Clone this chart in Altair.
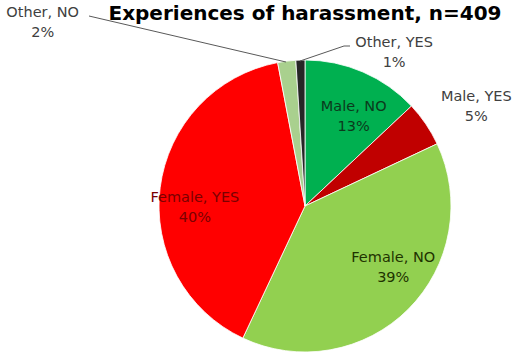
import math
import altair as alt
import pandas as pd

categories = ["Male, NO", "Male, YES", "Female, NO", "Female, YES", "Other, NO", "Other, YES"]
shares = [13, 5, 39, 40, 2, 1]
colors = ["#00B050", "#C00000", "#92D050", "#FF0000", "#A9D08E", "#262626"]
title_text = "Experiences of harassment, n=409"

# label layout (style): radius along slice mid-angle, dx, dy, text colour
label_r = [100, 195, 105, 110, 170, 155]
label_dx = [9, 10, 14, -1, -241, 94]
label_dy = [-7, 1, -22, 6, -24, -8]
label_col = ["#0B3A1C", "#404040", "#1F3300", "#7A0000", "#404040", "#404040"]

CX, CY, R = 305, 206, 146

df = pd.DataFrame({
    "category": categories,
    "share": shares,
    "idx": list(range(len(categories))),
})
df["label"] = [f"{c}\n{s}%" for c, s in zip(categories, shares)]

arc = alt.Chart(df).mark_arc(radius=R, stroke="white", strokeWidth=0.8).encode(
    theta=alt.Theta("share:Q", stack=True, scale=alt.Scale(domain=[0, 100])),
    color=alt.Color("category:N", scale=alt.Scale(domain=categories, range=colors), legend=None),
    order=alt.Order("idx:Q"),
    x=alt.value(CX),
    y=alt.value(CY),
)

base_txt = alt.Chart(df).transform_window(
    cum="sum(share)", sort=[alt.SortField("idx")], frame=[None, 0]
).transform_calculate(mid="datum.cum - datum.share / 2")

layers = [arc]
for i, c in enumerate(categories):
    t = base_txt.transform_filter(alt.datum.category == c).mark_text(
        radius=label_r[i], dx=label_dx[i], dy=label_dy[i],
        font="DejaVu Sans", fontSize=14.5, lineBreak="\n", lineHeight=20,
        align="center", baseline="middle", color=label_col[i],
    ).encode(
        theta=alt.Theta("mid:Q", scale=alt.Scale(domain=[0, 100]), stack=None),
        text="label:N",
        x=alt.value(CX),
        y=alt.value(CY),
    )
    layers.append(t)

one = pd.DataFrame({"k": [0]})
lead1 = alt.Chart(one).mark_rule(color="#595959", strokeWidth=1).encode(
    x=alt.value(89), y=alt.value(16), x2=alt.value(286), y2=alt.value(62))
lead2 = alt.Chart(one).mark_rule(color="#595959", strokeWidth=1).encode(
    x=alt.value(300), y=alt.value(61), x2=alt.value(344), y2=alt.value(46))
lead3 = alt.Chart(one).mark_rule(color="#595959", strokeWidth=1).encode(
    x=alt.value(344), y=alt.value(46), x2=alt.value(350), y2=alt.value(46))
title = alt.Chart(one).mark_text(
    font="DejaVu Sans", fontSize=20, fontWeight="bold", color="#000000",
    align="center", baseline="alphabetic",
).encode(x=alt.value(305), y=alt.value(20), text=alt.value(title_text))
layers += [lead1, lead2, lead3, title]

chart = alt.layer(*layers).resolve_scale(theta="independent").properties(
    width=518, height=353,
    padding=0,
    autosize=alt.AutoSizeParams(type="none"),
).configure_view(stroke=None)

chart.save("out.html", embed_options={"renderer": "svg", "actions": False})
